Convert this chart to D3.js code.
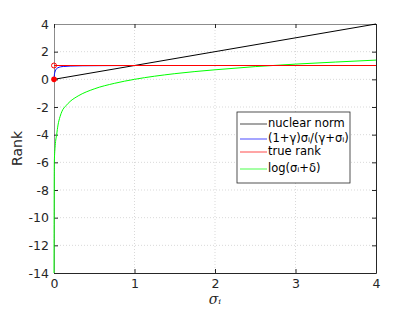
<!DOCTYPE html>
<html>
<head>
<meta charset="utf-8">
<script src="https://cdn.jsdelivr.net/npm/d3@7"></script>
<style>
  body { margin: 0; background: #fff; }
  svg { font-family: "DejaVu Sans", sans-serif; }
</style>
</head>
<body>
<svg width="415" height="312"></svg>
<script>
// values
var xTicks = [0, 1, 2, 3, 4];
var yTicks = [-14, -12, -10, -8, -6, -4, -2, 0, 2, 4];

var nuclearSigma = [0, 4];
var nuclearValue = [0, 4];

var surrSigma = [0, 0.005, 0.01, 0.02, 0.03, 0.05, 0.08, 0.12, 0.2, 0.35, 0.6, 1, 2, 4];
var surrValue = [0, 0.34, 0.5, 0.67, 0.76, 0.84, 0.9, 0.93, 0.96, 0.98, 0.99, 1.0, 1.0, 1.0];

var rankSigma = [0.0001, 4];
var rankValue = [1, 1];

var logSigma = [0, 0.004, 0.015, 0.033, 0.05, 0.075, 0.1, 0.15, 0.2, 0.3, 0.5, 0.75, 1, 1.5, 2, 2.5, 3, 3.5, 4];
var logValue = [-14, -6.0, -4.8, -4.0, -3.3, -2.7, -2.3, -1.9, -1.6, -1.2, -0.69, -0.29, 0, 0.41, 0.69, 0.92, 1.1, 1.25, 1.39];

var legendLabels = ["nuclear norm", "(1+γ)σᵢ/(γ+σᵢ)", "true rank", "log(σᵢ+δ)"];
var legendColors = ["#000000", "#0000ff", "#ff0000", "#00ff00"];

var svg = d3.select("svg");

var x = d3.scaleLinear().domain([0, 4]).range([54, 376]);
var y = d3.scaleLinear().domain([-14, 4]).range([273, 24]);

// grid
svg.append("g").selectAll("line").data(xTicks.slice(1, -1)).enter().append("line")
  .attr("x1", function (d) { return x(d); }).attr("x2", function (d) { return x(d); })
  .attr("y1", y(4)).attr("y2", y(-14))
  .attr("stroke", "#d9d9d9").attr("stroke-dasharray", "1,2");
svg.append("g").selectAll("line").data(yTicks.slice(1, -1)).enter().append("line")
  .attr("x1", x(0)).attr("x2", x(4))
  .attr("y1", function (d) { return y(d); }).attr("y2", function (d) { return y(d); })
  .attr("stroke", "#d9d9d9").attr("stroke-dasharray", "1,2");

// axes
var axisColor = "#262626";
function styleAxis(g, labels) {
  g.select(".domain").attr("stroke", axisColor);
  g.selectAll(".tick line").attr("stroke", axisColor);
  if (labels) g.selectAll(".tick text").attr("fill", axisColor).attr("font-size", 12.5)
    .attr("font-family", "'DejaVu Sans', sans-serif");
  else g.selectAll(".tick text").remove();
}
svg.append("g").attr("transform", "translate(0," + y(-14) + ")")
  .call(d3.axisBottom(x).tickValues(xTicks).tickFormat(function (d) { return String(d); })
    .tickSizeInner(-4).tickSizeOuter(0).tickPadding(6))
  .call(styleAxis, true);
svg.append("g").attr("transform", "translate(" + x(0) + ",0)")
  .call(d3.axisLeft(y).tickValues(yTicks).tickFormat(function (d) { return String(d); })
    .tickSizeInner(-4).tickSizeOuter(0).tickPadding(5))
  .call(styleAxis, true)
  .select(".domain").attr("stroke", "#8c8c8c");
svg.append("g").attr("transform", "translate(0," + y(4) + ")")
  .call(d3.axisTop(x).tickValues(xTicks).tickSizeInner(-4).tickSizeOuter(0))
  .call(styleAxis, false)
  .select(".domain").attr("stroke", "#8c8c8c");
svg.append("g").attr("transform", "translate(" + x(4) + ",0)")
  .call(d3.axisRight(y).tickValues(yTicks).tickSizeInner(-4).tickSizeOuter(0))
  .call(styleAxis, false);

function zip(a, b) { return a.map(function (v, i) { return [v, b[i]]; }); }

var line = d3.line()
  .x(function (d) { return x(d[0]); })
  .y(function (d) { return y(d[1]); })
  .curve(d3.curveMonotoneX);

// curves drawn over the axes
var plot = svg.append("g");
plot.append("path").datum(zip(logSigma, logValue))
  .attr("fill", "none").attr("stroke", "#00ff00").attr("stroke-width", 1).attr("d", line);
plot.append("path").datum(zip(nuclearSigma, nuclearValue))
  .attr("fill", "none").attr("stroke", "#000").attr("stroke-width", 1).attr("d", line);
plot.append("path").datum(zip(surrSigma, surrValue))
  .attr("fill", "none").attr("stroke", "#0000ff").attr("stroke-width", 1).attr("d", line);
plot.append("path").datum(zip(rankSigma, rankValue))
  .attr("fill", "none").attr("stroke", "#ff0000").attr("stroke-width", 1.1).attr("d", line);
plot.append("circle").attr("cx", x(0)).attr("cy", y(1)).attr("r", 2.5)
  .attr("fill", "none").attr("stroke", "#ff0000");
plot.append("circle").attr("cx", x(0)).attr("cy", y(0)).attr("r", 2.8)
  .attr("fill", "#ff0000");

// axis labels
svg.append("text").attr("transform", "translate(22," + y(-5) + ") rotate(-90)")
  .attr("text-anchor", "middle").attr("font-size", 14).attr("fill", axisColor).text("Rank");
svg.append("text").attr("x", x(2)).attr("y", 304)
  .attr("text-anchor", "middle").attr("font-size", 14).attr("font-style", "italic")
  .attr("font-family", "'DejaVu Serif', serif").attr("fill", axisColor)
  .text("σᵢ");

// legend
var lg = svg.append("g").attr("transform", "translate(237,112)");
lg.append("rect").attr("width", 113).attr("height", 71)
  .attr("fill", "#fff").attr("stroke", "#262626").attr("stroke-width", 0.8);
var rowY = [12, 27, 40, 57];
legendLabels.forEach(function (lab, i) {
  lg.append("line").attr("x1", 3).attr("x2", 30).attr("y1", rowY[i]).attr("y2", rowY[i])
    .attr("stroke", legendColors[i]).attr("opacity", 0.7);
  lg.append("text").attr("x", 31).attr("y", rowY[i] - 1.5).attr("dy", "0.35em")
    .attr("font-size", 11.5).attr("fill", "#000").text(lab);
});
</script>
</body>
</html>
